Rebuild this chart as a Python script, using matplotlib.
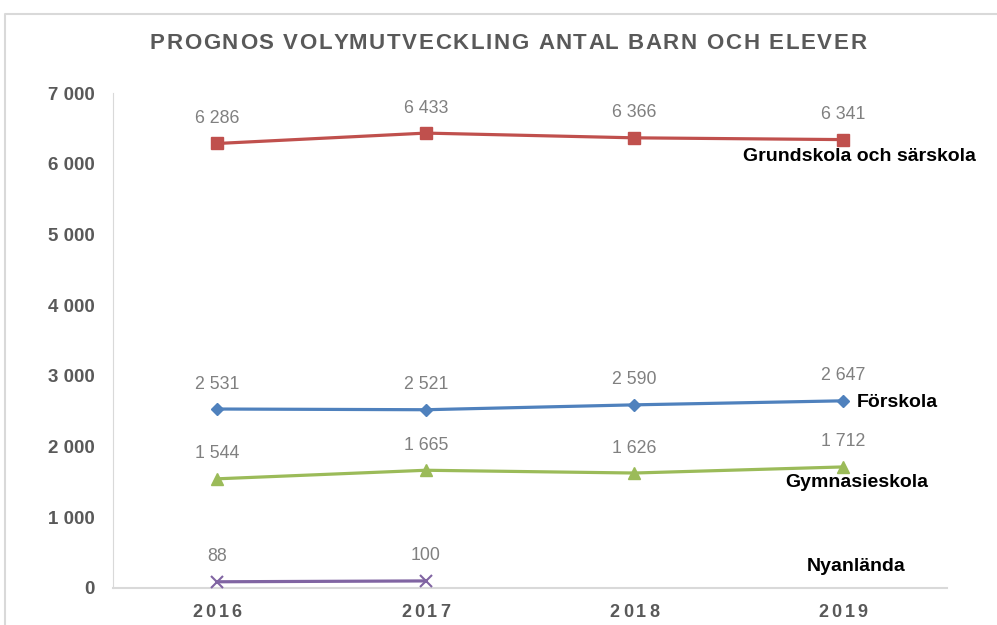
import numpy as np
import matplotlib.pyplot as plt
from matplotlib.lines import Line2D
from matplotlib.font_manager import FontProperties

years = ['2016', '2017', '2018', '2019']
grundskola = [6286, 6433, 6366, 6341]
forskola = [2531, 2521, 2590, 2647]
gymnasieskola = [1544, 1665, 1626, 1712]
nyanlanda = [88, 100]

series = [
    ('Grundskola och särskola', grundskola, '#C0504D', 's', 8),
    ('Förskola', forskola, '#4F81BD', 'D', 6),
    ('Gymnasieskola', gymnasieskola, '#9BBB59', '^', 9),
    ('Nyanlända', nyanlanda, '#8064A2', 'x', 9),
]
# where the series names sit (data coords, left aligned)
name_pos = [(2.52, 6096), (3.066, 2617), (2.722, 1485), (2.827, 311)]

plt.rcParams['font.family'] = ['Liberation Sans', 'DejaVu Sans']

fig = plt.figure(figsize=(9.97, 6.25), dpi=100)
ax = fig.add_axes([0.1133, 0.0592, 0.8367, 0.792])
rend = fig.canvas.get_renderer()

def fmt(v):
  return '{:,}'.format(v).replace(',', ' ')

def tracked(xc, yb, s, size, spacing, color):
  # excel style letter spacing: place every char by hand, centred on xc (pixels)
  prop = FontProperties(family='Liberation Sans', weight='bold', size=size)
  w = lambda t: rend.get_text_width_height_descent('X' + t + 'X', prop, ismath=False)[0] \
      - rend.get_text_width_height_descent('XX', prop, ismath=False)[0]
  total = w(s) + spacing * (len(s) - 1)
  x0 = xc - total / 2
  for i, ch in enumerate(s):
    if ch == ' ':
      continue
    fig.text((x0 + w(s[:i]) + spacing * i) / fig.bbox.width, yb / fig.bbox.height, ch,
             fontproperties=prop, color=color, ha='left', va='baseline')

x = np.arange(len(years))
for (name, vals, col, mk, ms), (nx, ny) in zip(series, name_pos):
  xs = x[:len(vals)]
  ax.plot(xs, vals, color=col, lw=2.3, marker=mk, ms=ms, mew=1.5 if mk == 'x' else 1,
          mec=col, mfc=col, clip_on=False, zorder=3)
  for xi, v in zip(xs, vals):
    ax.annotate(fmt(v), (xi, v), xytext=(0, 25), textcoords='offset pixels',
                ha='center', va='center', fontsize=12.8, color='#808080')
  ax.text(nx, ny, name, ha='left', va='center', fontsize=14, fontweight='bold', color='black')

ax.set_xlim(-0.5, 3.5)
ax.set_ylim(0, 7000)
ax.set_yticks(range(0, 7001, 1000))
ax.set_yticklabels([fmt(v) for v in range(0, 7001, 1000)], fontsize=13.5, fontweight='bold', color='#595959')
ax.set_xticks(x)
ax.set_xticklabels([])
ax.tick_params(length=0, pad=13)
for s in ['top', 'right']:
  ax.spines[s].set_visible(False)
ax.spines['left'].set_color('#d9d9d9')
ax.spines['bottom'].set_color('#d9d9d9')
ax.spines['bottom'].set_linewidth(1.5)

H = fig.bbox.height
for xi, yr in zip(x, years):
  px = ax.transData.transform((xi, 0))[0]
  tracked(px, H - 617, yr, 13, 3, '#595959')

tracked(508, H - 49, 'PROGNOS VOLYMUTVECKLING ANTAL BARN OCH ELEVER', 16, 1.7, '#595959')

# chart frame
fig.add_artist(Line2D([0.005, 0.005, 1.0], [0.0, 0.978, 0.978], transform=fig.transFigure,
                      color='#d9d9d9', lw=1.5))

fig.savefig('out.png', dpi=100)
